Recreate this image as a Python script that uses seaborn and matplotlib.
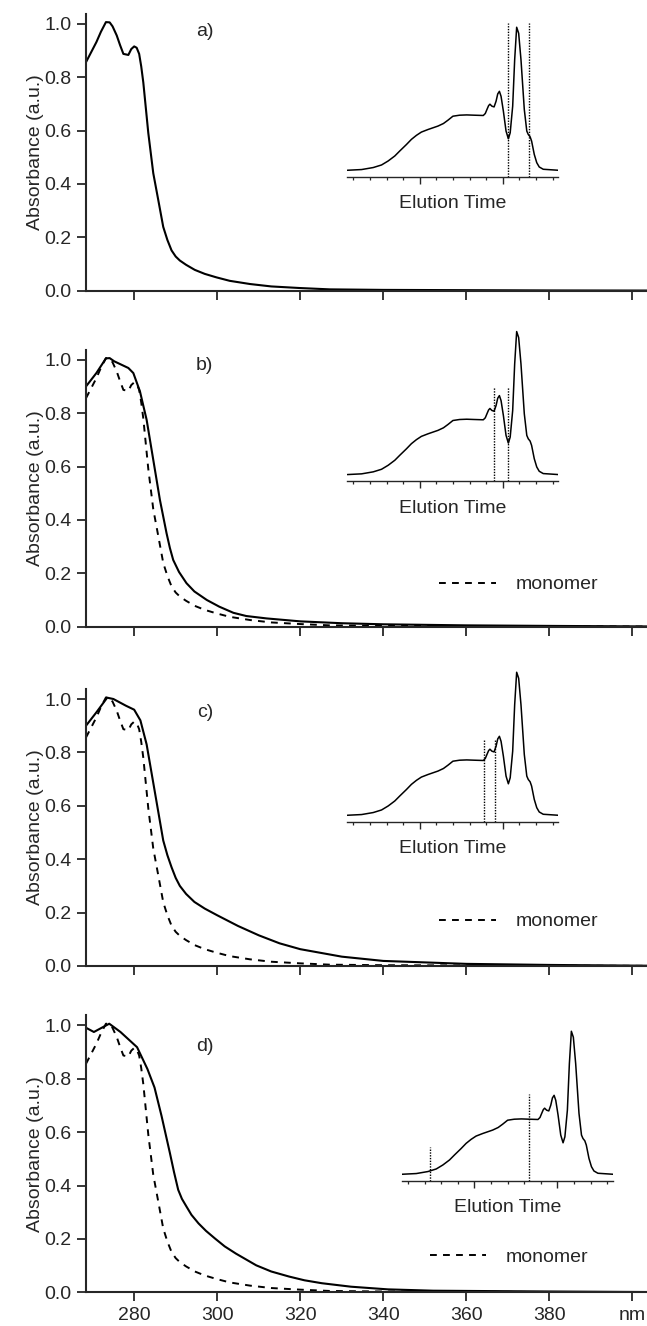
import numpy as np
import matplotlib
matplotlib.use("Agg")
import matplotlib.pyplot as plt
import seaborn as sns
from matplotlib.ticker import MultipleLocator, FormatStrFormatter

sns.set_style("ticks")
plt.rcParams['font.family'] = ['Liberation Sans', 'DejaVu Sans']

# monomer spectrum (also the solid curve of panel a)
mono_nm = [268.4, 270.9, 272.0, 273.2, 274.1, 274.8, 275.8, 276.6, 277.4, 278.6, 279.3,
           280.0, 280.6, 281.2, 281.7, 282.2, 283.4, 284.6, 285.8, 287.0, 288.0, 289.0,
           290.0, 291.0, 292.5, 294.6, 297.0, 299.8, 303.0, 307.9, 313.0, 319.9, 327.1,
           340, 360, 380, 403.5]
mono_abs = [0.856, 0.931, 0.97, 1.006, 1.005, 0.99, 0.956, 0.92, 0.887, 0.883, 0.905,
            0.915, 0.91, 0.887, 0.84, 0.78, 0.591, 0.44, 0.34, 0.239, 0.19, 0.151,
            0.128, 0.113, 0.097, 0.078, 0.063, 0.050, 0.037, 0.025, 0.016, 0.010, 0.005,
            0.003, 0.002, 0.001, 0.0005]

b_nm = [268.4, 270.9, 273.2, 274.1, 275.2, 278.6, 279.8, 281.4, 283.0, 284.6, 286.2,
        287.8, 288.6, 289.4, 290.8, 292.6, 294.5, 297.5, 300.5, 303.9, 307.0, 311.9,
        320, 330, 340, 360, 380, 403.5]
b_abs = [0.90, 0.95, 1.005, 1.006, 0.994, 0.969, 0.95, 0.881, 0.775, 0.625, 0.475,
         0.35, 0.295, 0.25, 0.205, 0.163, 0.132, 0.10, 0.075, 0.052, 0.04, 0.031,
         0.02, 0.013, 0.009, 0.005, 0.003, 0.001]

c_nm = [268.4, 270.9, 273.5, 275.0, 278.0, 280.0, 281.5, 283.0, 285.0, 287.0, 288.0,
        289.0, 290.0, 291.0, 292.5, 294.5, 297.0, 300.0, 305.0, 310.0, 315.0, 320.0,
        330.0, 340.0, 360.0, 380.0, 403.5]
c_abs = [0.90, 0.95, 1.005, 1.0, 0.975, 0.96, 0.92, 0.83, 0.65, 0.47, 0.415,
         0.37, 0.33, 0.30, 0.27, 0.24, 0.215, 0.19, 0.15, 0.115, 0.085, 0.063,
         0.035, 0.019, 0.008, 0.004, 0.001]

d_nm = [268.5, 270.3, 274.0, 276.7, 280.7, 283.2, 284.9, 286.6, 288.6, 289.6, 290.6,
        291.5, 292.6, 293.8, 295.5, 297.3, 299.5, 301.8, 304.5, 309.4, 313.0, 317.3,
        321.0, 325.2, 332.2, 341.1, 352.0, 380.0, 403.5]
d_abs = [0.99, 0.975, 1.006, 0.975, 0.918, 0.836, 0.767, 0.66, 0.522, 0.45, 0.384,
         0.35, 0.321, 0.29, 0.258, 0.23, 0.201, 0.172, 0.145, 0.101, 0.078, 0.059,
         0.045, 0.034, 0.021, 0.011, 0.006, 0.003, 0.001]

# size-exclusion trace used in every inset (arbitrary units)
elu_t = [-0.36, 0.5, 1.2, 1.7, 2.1, 2.5, 2.8, 3.2, 3.5, 3.8, 4.1, 4.5, 4.8, 5.1, 5.43,
         5.7, 6.0, 6.4, 6.83, 7.3, 7.83, 7.95, 8.05, 8.15, 8.23, 8.35, 8.48, 8.6, 8.7,
         8.8, 8.9, 9.04, 9.2, 9.34, 9.45, 9.6, 9.72, 9.84, 9.96, 10.1, 10.3, 10.45,
         10.54, 10.65, 10.74, 10.9, 11.05, 11.2, 11.44, 12.35]
elu_sig = [0, 0.005, 0.019, 0.037, 0.065, 0.10, 0.135, 0.18, 0.216, 0.244, 0.267, 0.285,
           0.297, 0.309, 0.327, 0.35, 0.378, 0.385, 0.387, 0.385, 0.383, 0.397, 0.425,
           0.452, 0.462, 0.448, 0.443, 0.483, 0.534, 0.552, 0.517, 0.413, 0.274, 0.22,
           0.262, 0.448, 0.773, 1.0, 0.958, 0.773, 0.425, 0.274, 0.25, 0.234, 0.204,
           0.111, 0.053, 0.023, 0.007, 0]

# fraction cut positions (dotted lines) and their heights per panel
cut_pos = [[9.3, 10.6], [8.48, 9.34], [7.87, 8.52], [1.35, 7.31]]
cut_top = [[1.03, 1.03], [0.614, 0.614], [0.528, 0.528], [0.193, 0.558]]

panel_tags = ['a)', 'b)', 'c)', 'd)']
tag_y = [0.97, 0.98, 0.95, 0.92]
legend_y = [None, 0.152, 0.16, 0.127]
legend_x = [None, 0.63, 0.63, 0.613]
solid_nm = [mono_nm, b_nm, c_nm, d_nm]
solid_abs = [mono_abs, b_abs, c_abs, d_abs]

W, H = 647, 1326
fig = plt.figure(figsize=(W / 100, H / 100), dpi=100)

axis_bottom_px = [290.7, 626.7, 966.0, 1292.3]
inset_bottom_px = [176.7, 481.0, 821.7, 1180.7]
inset_left_px = [347, 347, 347, 401.7]

for i in range(4):
    ax = fig.add_axes([86 / W, (H - axis_bottom_px[i]) / H, (W - 86) / W, 277 / H])
    sns.lineplot(x=solid_nm[i], y=solid_abs[i], ax=ax, color='black', lw=1.5,
                 sort=False, estimator=None)
    if i > 0:
        sns.lineplot(x=mono_nm, y=mono_abs, ax=ax, color='black', lw=1.4,
                     linestyle=(0, (3.5, 3.2)), sort=False, estimator=None)
        ax.legend(handles=[ax.lines[1]], labels=['monomer'], frameon=False,
                  loc='center left', bbox_to_anchor=(legend_x[i], legend_y[i]),
                  borderpad=0, borderaxespad=0, handlelength=2.9,
                  handletextpad=1.0, fontsize=14)
    ax.set_xlim(268.4, 403.5)
    ax.set_ylim(0, 1.0375)
    ax.set_xticks(range(280, 401, 20))
    ax.set_yticks(np.arange(0, 1.01, 0.2))
    ax.yaxis.set_major_formatter(FormatStrFormatter('%.1f'))
    if i < 3:
        ax.set_xticklabels([])
    else:
        ax.set_xticklabels(['280', '300', '320', '340', '360', '380', 'nm'])
    for s in ['top', 'right']:
        ax.spines[s].set_visible(False)
    for s in ['left', 'bottom']:
        ax.spines[s].set_linewidth(1.5)
    ax.tick_params(direction='out', length=6.5, width=1.3, labelsize=14, pad=4)
    ax.set_xlabel('')
    ax.set_ylabel('Absorbance (a.u.)', fontsize=14)
    ax.yaxis.set_label_coords(-0.075, 0.5)
    ax.text(297, tag_y[i], panel_tags[i], ha='center', va='center', fontsize=14)

    axi = fig.add_axes([inset_left_px[i] / W, (H - inset_bottom_px[i]) / H, 211 / W, 156.6 / H])
    axi.set_facecolor('none')
    sns.lineplot(x=elu_t, y=elu_sig, ax=axi, color='black', lw=1.1,
                 sort=False, estimator=None)
    axi.vlines(cut_pos[i], -0.045, cut_top[i], colors='black', lw=1.0,
               linestyles=[(0, (1, 1))])
    axi.set_xlim(-0.38, 12.33)
    axi.set_ylim(-0.045, 1.05)
    axi.set_xticks([4, 9])
    axi.xaxis.set_minor_locator(MultipleLocator(1))
    axi.set_xticklabels([])
    axi.set_yticks([])
    for s in ['top', 'right', 'left']:
        axi.spines[s].set_visible(False)
    axi.spines['bottom'].set_linewidth(1.0)
    axi.tick_params(axis='x', which='major', direction='out', length=5, width=1.0)
    axi.tick_params(axis='x', which='minor', direction='out', length=2.5, width=0.9)
    axi.set_xlabel('Elution Time', fontsize=14, labelpad=5)
    axi.set_ylabel('')

fig.savefig('out.png', dpi=100)
